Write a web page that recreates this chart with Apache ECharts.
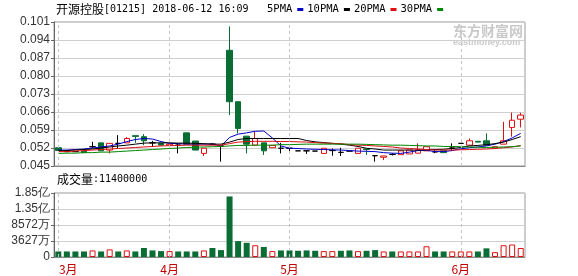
<!DOCTYPE html>
<html><head><meta charset="utf-8">
<script src="https://cdn.jsdelivr.net/npm/echarts@6/dist/echarts.min.js"></script>
<style>html,body{margin:0;padding:0;background:#fff}#c{width:578px;height:276px}</style>
</head><body><div id="c"></div>
<script>
const titleCode = '开源控股';
const titleRest = '[01215] 2018-06-12 16:09';
const volTitleName = '成交量';
const volTitleValue = ':11400000';
const monthStarts = [0, 13, 27, 47];
const monthLabels = ['3月', '4月', '5月', '6月'];
const volTickLabels = ['0', '3627万', '8572万', '1.35亿', '1.85亿'];
const seriesNames = ['5PMA', '10PMA', '20PMA', '30PMA'];

// [open, close, low, high]
const kline = [
[0.0521,0.0510,0.0508,0.0521],[0.0506,0.0506,0.0504,0.0510],[0.0506,0.0506,0.0504,0.0508],[0.0508,0.0502,0.0502,0.0508],
[0.0525,0.0525,0.0519,0.0544],[0.0540,0.0509,0.0509,0.0540],[0.0512,0.0538,0.0499,0.0538],[0.0538,0.0538,0.0519,0.0570],
[0.0540,0.0557,0.0540,0.0562],[0.0568,0.0565,0.0540,0.0568],[0.0564,0.0548,0.0531,0.0574],[0.0540,0.0540,0.0525,0.0548],
[0.0538,0.0531,0.0531,0.0538],[0.0531,0.0535,0.0531,0.0535],[0.0531,0.0531,0.0499,0.0538],[0.0579,0.0535,0.0535,0.0579],
[0.0547,0.0512,0.0512,0.0547],[0.0499,0.0519,0.0489,0.0519],[0.0535,0.0535,0.0531,0.0538],[0.0528,0.0528,0.0467,0.0530],
[0.0900,0.0700,0.0648,0.0993],[0.0700,0.0596,0.0577,0.0700],[0.0566,0.0535,0.0499,0.0566],[0.0531,0.0557,0.0531,0.0583],
[0.0540,0.0509,0.0493,0.0540],[0.0521,0.0530,0.0521,0.0530],[0.0519,0.0519,0.0499,0.0540],[0.0519,0.0519,0.0500,0.0519],
[0.0509,0.0509,0.0509,0.0509],[0.0509,0.0509,0.0497,0.0509],[0.0508,0.0508,0.0508,0.0508],[0.0499,0.0519,0.0499,0.0519],
[0.0510,0.0510,0.0490,0.0518],[0.0503,0.0503,0.0489,0.0521],[0.0508,0.0508,0.0508,0.0508],[0.0499,0.0519,0.0499,0.0519],
[0.0516,0.0514,0.0493,0.0516],[0.0490,0.0490,0.0467,0.0490],[0.0484,0.0489,0.0473,0.0489],[0.0495,0.0495,0.0491,0.0500],
[0.0494,0.0509,0.0494,0.0509],[0.0497,0.0512,0.0497,0.0512],[0.0500,0.0512,0.0500,0.0538],[0.0509,0.0525,0.0509,0.0525],
[0.0505,0.0505,0.0500,0.0512],[0.0509,0.0502,0.0502,0.0509],[0.0520,0.0520,0.0512,0.0538],[0.0538,0.0538,0.0538,0.0538],
[0.0531,0.0548,0.0531,0.0557],[0.0546,0.0543,0.0543,0.0546],[0.0548,0.0531,0.0531,0.0577],[0.0519,0.0525,0.0519,0.0525],
[0.0535,0.0548,0.0535,0.0622],[0.0600,0.0628,0.0564,0.0658],[0.0632,0.0648,0.0600,0.0657]
];

const ma5 = [0.0512,0.0512,0.0514,0.0516,0.0520,0.0524,0.0528,0.0535,0.0545,0.0553,
0.0557,0.0555,0.0545,0.0538,0.0537,0.0535,0.0535,0.0535,0.0535,0.0528,
0.0561,0.0574,0.0579,0.0585,0.0586,0.0559,0.0528,0.0519,0.0518,0.0516,
0.0515,0.0514,0.0513,0.0512,0.0510,0.0508,0.0507,0.0506,0.0502,0.0500,
0.0499,0.0504,0.0510,0.0511,0.0506,0.0506,0.0510,0.0517,0.0521,0.0524,
0.0528,0.0535,0.0545,0.0559,0.0577];
const ma10 = [0.0509,0.0510,0.0512,0.0514,0.0516,0.0520,0.0524,0.0528,0.0531,0.0535,
0.0539,0.0540,0.0540,0.0540,0.0539,0.0539,0.0538,0.0537,0.0535,0.0535,
0.0543,0.0553,0.0557,0.0557,0.0557,0.0557,0.0557,0.0557,0.0557,0.0549,
0.0544,0.0541,0.0538,0.0535,0.0531,0.0526,0.0519,0.0516,0.0512,0.0512,
0.0512,0.0512,0.0512,0.0513,0.0514,0.0515,0.0518,0.0522,0.0528,0.0530,
0.0533,0.0537,0.0543,0.0553,0.0564];
const ma20 = [0.0506,0.0506,0.0508,0.0510,0.0512,0.0514,0.0516,0.0518,0.0520,0.0522,
0.0524,0.0526,0.0528,0.0529,0.0530,0.0531,0.0531,0.0531,0.0531,0.0531,
0.0537,0.0543,0.0545,0.0546,0.0546,0.0546,0.0545,0.0545,0.0544,0.0543,
0.0541,0.0539,0.0538,0.0537,0.0533,0.0531,0.0530,0.0528,0.0526,0.0524,
0.0520,0.0518,0.0516,0.0514,0.0512,0.0512,0.0512,0.0513,0.0514,0.0515,
0.0516,0.0518,0.0521,0.0524,0.0530];
const ma30 = [0.0499,0.0500,0.0500,0.0502,0.0502,0.0504,0.0504,0.0506,0.0508,0.0510,
0.0512,0.0514,0.0516,0.0518,0.0520,0.0522,0.0523,0.0524,0.0525,0.0526,
0.0528,0.0530,0.0530,0.0531,0.0531,0.0531,0.0533,0.0533,0.0534,0.0535,
0.0535,0.0535,0.0535,0.0535,0.0535,0.0535,0.0534,0.0533,0.0532,0.0531,
0.0531,0.0530,0.0529,0.0528,0.0528,0.0526,0.0526,0.0525,0.0524,0.0523,
0.0522,0.0523,0.0524,0.0525,0.0528];

const volumes = [16000000,16000000,16000000,16000000,19000000,16000000,22000000,16000000,19000000,16000000,
26000000,19000000,17000000,17000000,16000000,16000000,16000000,19000000,26000000,20000000,
175000000,46000000,41000000,34000000,29000000,17000000,19000000,19000000,18000000,19000000,
18000000,17000000,17000000,18000000,19000000,17000000,18000000,20000000,16000000,16000000,
16000000,16000000,16000000,31000000,16000000,16000000,16000000,16000000,16000000,16000000,
25000000,14000000,34000000,36000000,26000000];
const volDir = ['g','g','g','g','r','g','r','g','r','g','g','g','g','r','g','g','g','r','g','g',
'g','g','g','r','g','r','g','g','g','g','g','r','r','g','g','r','g','g','r','g',
'r','r','r','r','g','g','r','r','r','g','g','r','r','r','r'];

const categories = kline.map((_, i) => 'd' + (i + 1));

const RED = '#dd1111', GREEN = '#0a6e34';
const maColors = ['#0000cc', '#000000', '#dd1111', '#008800'];
const monthSet = {};
monthStarts.forEach((s, k) => { monthSet[s] = monthLabels[k]; });

const monthMark = {
  silent: true, symbol: 'none', animation: false,
  label: { show: false },
  lineStyle: { type: [3, 3], color: '#c4c4c4', width: 1 },
  data: monthStarts.map(i => ({ xAxis: categories[i] }))
};

const richTitle = {
  a: { fontFamily: 'Noto Sans CJK SC', fontSize: 12, color: '#000', fontWeight: 'normal' },
  b: { fontFamily: 'DejaVu Sans Mono', fontSize: 10, color: '#000', fontWeight: 'normal' }
};

const chart = echarts.init(document.getElementById('c'), null, { renderer: 'canvas' });
chart.setOption({
  animation: false,
  backgroundColor: '#fff',
  title: [
    { text: '{a|' + titleCode + '}{b|' + titleRest + '}', left: 56, top: 3, padding: 0,
      textStyle: { fontWeight: 'normal', rich: richTitle } },
    { text: '{a|' + volTitleName + '}{b|' + volTitleValue + '}', left: 57, top: 173, padding: 0,
      textStyle: { fontWeight: 'normal', rich: richTitle } }
  ],
  legend: {
    data: seriesNames, left: 267, top: 4, padding: 0, itemGap: 4,
    align: 'right', icon: 'rect', itemWidth: 6, itemHeight: 3,
    selectedMode: false,
    textStyle: { fontFamily: 'DejaVu Sans Mono', fontSize: 10.5, color: '#000', padding: [0, 0, 0, 0] }
  },
  graphic: [
    { type: 'text', left: 453, top: 24, z: 0, silent: true,
      style: { text: '东方财富网', fill: '#c9c9c9', font: 'bold 14px "Noto Sans CJK SC"' } },
    { type: 'text', left: 453, top: 38, z: 0, silent: true,
      style: { text: 'eastmoney.com', fill: '#c9c9c9', font: 'bold 9px "Liberation Sans"' } }
  ],
  grid: [
    { left: 54, right: 53, top: 22, height: 144, show: true, borderColor: '#999', borderWidth: 1, backgroundColor: 'transparent' },
    { left: 54, right: 53, top: 193, height: 64, show: true, borderColor: '#999', borderWidth: 1, backgroundColor: 'transparent' }
  ],
  xAxis: [
    { type: 'category', gridIndex: 0, data: categories, boundaryGap: true,
      axisLine: { show: true, lineStyle: { color: '#888' } }, axisTick: { show: false },
      axisLabel: { show: false }, splitLine: { show: false } },
    { type: 'category', gridIndex: 1, data: categories, boundaryGap: true,
      axisLine: { show: true, lineStyle: { color: '#888' } }, axisTick: { show: false },
      splitLine: { show: false },
      axisLabel: {
        show: true, margin: 6, color: '#c00000', fontSize: 12, fontFamily: 'Noto Sans CJK SC',
        interval: (idx) => monthSet[idx] !== undefined,
        formatter: (val, idx) => idx === 0 ? '{f|' + monthSet[idx] + '}' : (monthSet[idx] || ''),
        rich: { f: { padding: [0, 0, 0, 20], color: '#c00000', fontSize: 12, fontFamily: 'Noto Sans CJK SC' } }
      } }
  ],
  yAxis: [
    { type: 'value', gridIndex: 0, min: 0.045, max: 0.101, interval: 0.007, scale: true,
      axisLine: { show: true, lineStyle: { color: '#666' } },
      axisTick: { show: true, length: 3, lineStyle: { color: '#666' } },
      axisLabel: { color: '#333', fontSize: 12, fontFamily: 'Liberation Sans', margin: 4,
        formatter: v => v.toFixed(3) },
      splitLine: { show: true, lineStyle: { color: '#cfcfcf', width: 1 } } },
    { type: 'value', gridIndex: 1, min: 0, max: 185000000, interval: 46250000,
      axisLine: { show: true, lineStyle: { color: '#666' } },
      axisTick: { show: true, length: 3, lineStyle: { color: '#666' } },
      axisLabel: { color: '#333', fontSize: 12, fontFamily: 'Liberation Sans', margin: 4,
        formatter: (v, i) => volTickLabels[i] },
      splitLine: { show: true, lineStyle: { color: '#cfcfcf', width: 1 } } }
  ],
  series: [
    { type: 'candlestick', name: 'K', xAxisIndex: 0, yAxisIndex: 0, data: kline, barWidth: 6,
      itemStyle: { color: '#ffffff', color0: GREEN, borderColor: RED, borderColor0: GREEN,
        borderColorDoji: '#000', borderWidth: 1 },
      markLine: monthMark, z: 3 },
    { type: 'line', name: seriesNames[0], data: ma5, xAxisIndex: 0, yAxisIndex: 0, color: maColors[0],
      symbol: 'none', lineStyle: { width: 1, color: maColors[0] }, z: 4 },
    { type: 'line', name: seriesNames[1], data: ma10, xAxisIndex: 0, yAxisIndex: 0, color: maColors[1],
      symbol: 'none', lineStyle: { width: 1, color: maColors[1] }, z: 4 },
    { type: 'line', name: seriesNames[2], data: ma20, xAxisIndex: 0, yAxisIndex: 0, color: maColors[2],
      symbol: 'none', lineStyle: { width: 1, color: maColors[2] }, z: 4 },
    { type: 'line', name: seriesNames[3], data: ma30, xAxisIndex: 0, yAxisIndex: 0, color: maColors[3],
      symbol: 'none', lineStyle: { width: 1, color: maColors[3] }, z: 4 },
    { type: 'bar', name: 'VOL', xAxisIndex: 1, yAxisIndex: 1, barWidth: 6,
      data: volumes.map((v, i) => ({ value: v, itemStyle: volDir[i] === 'r'
        ? { color: '#ffffff', borderColor: RED, borderWidth: 1 }
        : { color: GREEN, borderColor: GREEN, borderWidth: 0 } })),
      markLine: monthMark }
  ]
});
</script></body></html>
